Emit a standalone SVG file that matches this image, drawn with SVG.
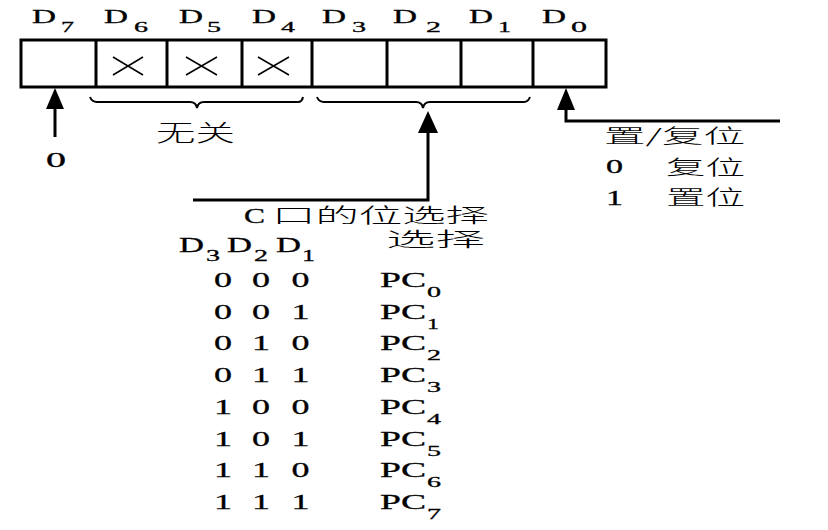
<svg xmlns="http://www.w3.org/2000/svg" width="828" height="530" viewBox="0 0 828 530">
<style>
.lat{font-family:"Liberation Serif","Times New Roman",serif;fill:#000;stroke:#000;stroke-width:0.3}
.cjk{font-family:"Noto Sans CJK SC","Noto Sans CJK JP",sans-serif;font-weight:300;fill:#000}
.box{fill:none;stroke:#000;stroke-width:3}
.div{stroke:#000;stroke-width:3}
.x{stroke:#000;stroke-width:1.5}
.ln{fill:none;stroke:#000;stroke-width:3}
.br{fill:none;stroke:#000;stroke-width:2}
.ah{fill:#000}
</style>
<rect width="828" height="530" fill="#fff"/>

<g id="register">
<rect class="box" x="21" y="40" width="585" height="47"/>
<line class="div" x1="96" y1="40" x2="96" y2="87"/>
<line class="div" x1="167" y1="40" x2="167" y2="87"/>
<line class="div" x1="242" y1="40" x2="242" y2="87"/>
<line class="div" x1="312" y1="40" x2="312" y2="87"/>
<line class="div" x1="387" y1="40" x2="387" y2="87"/>
<line class="div" x1="461" y1="40" x2="461" y2="87"/>
<line class="div" x1="533" y1="40" x2="533" y2="87"/>
<path class="x" d="M113,57 L143,75 M143,57 L113,75"/>
<path class="x" d="M186,57 L217,75 M217,57 L186,75"/>
<path class="x" d="M258,57 L289,75 M289,57 L258,75"/>
</g>

<g id="bit-labels" font-size="18">
<text class="lat" x="32" y="23" textLength="24" lengthAdjust="spacingAndGlyphs">D</text>
<text class="lat" x="61" y="32" font-size="15" textLength="13" lengthAdjust="spacingAndGlyphs">7</text>
<text class="lat" x="104" y="23" textLength="24" lengthAdjust="spacingAndGlyphs">D</text>
<text class="lat" x="134" y="32" font-size="15" textLength="14" lengthAdjust="spacingAndGlyphs">6</text>
<text class="lat" x="179" y="23" textLength="24" lengthAdjust="spacingAndGlyphs">D</text>
<text class="lat" x="207" y="32" font-size="15" textLength="14" lengthAdjust="spacingAndGlyphs">5</text>
<text class="lat" x="252" y="23" textLength="24" lengthAdjust="spacingAndGlyphs">D</text>
<text class="lat" x="281" y="32" font-size="15" textLength="14" lengthAdjust="spacingAndGlyphs">4</text>
<text class="lat" x="322" y="23" textLength="24" lengthAdjust="spacingAndGlyphs">D</text>
<text class="lat" x="352" y="32" font-size="15" textLength="14" lengthAdjust="spacingAndGlyphs">3</text>
<text class="lat" x="393" y="23" textLength="24" lengthAdjust="spacingAndGlyphs">D</text>
<text class="lat" x="426" y="32" font-size="15" textLength="15" lengthAdjust="spacingAndGlyphs">2</text>
<text class="lat" x="469" y="23" textLength="24" lengthAdjust="spacingAndGlyphs">D</text>
<text class="lat" x="498" y="32" font-size="15" textLength="13" lengthAdjust="spacingAndGlyphs">1</text>
<text class="lat" x="542" y="23" textLength="24" lengthAdjust="spacingAndGlyphs">D</text>
<text class="lat" x="571" y="32" font-size="15" textLength="16" lengthAdjust="spacingAndGlyphs">0</text>
</g>

<g id="connectors">
<path class="br" d="M90,97 Q92,102 97,102 L190,102 Q196,102 197,108 Q198,102 204,102 L298,102 Q302,102 303,97"/>
<path class="br" d="M317,97 Q319,102 324,102 L416,102 Q422,102 423,108 Q424,102 430,102 L524,102 Q528,102 530,97"/>
<line class="ln" x1="55" y1="137" x2="55" y2="105"/>
<polygon class="ah" points="55,88 46,109 64,109"/>
<polyline class="ln" points="193,200 428,200 428,128"/>
<polygon class="ah" points="428,111 418,133 438,133"/>
<polyline class="ln" points="566,106 566,121 780,121"/>
<polygon class="ah" points="566,88 557,110 575,110"/>
</g>

<g id="label-dontcare">
<text class="cjk" x="156" y="141" font-size="23" textLength="79" lengthAdjust="spacingAndGlyphs">无关</text>
</g>

<g id="label-zero">
<text class="lat" x="46" y="167" font-size="21" textLength="20" lengthAdjust="spacingAndGlyphs">0</text>
</g>

<g id="label-setreset">
<text class="cjk" x="604" y="143" font-size="19" textLength="141" lengthAdjust="spacingAndGlyphs">置/复位</text>
<text class="lat" x="606" y="173" font-size="18" textLength="17" lengthAdjust="spacingAndGlyphs">0</text>
<text class="cjk" x="666" y="175" font-size="20" textLength="79" lengthAdjust="spacingAndGlyphs">复位</text>
<text class="lat" x="606" y="205" font-size="20" textLength="17" lengthAdjust="spacingAndGlyphs">1</text>
<text class="cjk" x="666" y="205" font-size="20" textLength="79" lengthAdjust="spacingAndGlyphs">置位</text>
</g>

<g id="table">
<text class="lat" x="244" y="223" font-size="22" textLength="21" lengthAdjust="spacingAndGlyphs">C</text>
<text class="cjk" x="272" y="223" font-size="20" textLength="217" lengthAdjust="spacingAndGlyphs">口的位选择</text>

<text class="lat" x="179" y="252" font-size="22" textLength="25" lengthAdjust="spacingAndGlyphs">D</text>
<text class="lat" x="206" y="261" font-size="16" textLength="14" lengthAdjust="spacingAndGlyphs">3</text>
<text class="lat" x="227" y="252" font-size="22" textLength="25" lengthAdjust="spacingAndGlyphs">D</text>
<text class="lat" x="254" y="261" font-size="16" textLength="14" lengthAdjust="spacingAndGlyphs">2</text>
<text class="lat" x="276" y="252" font-size="22" textLength="25" lengthAdjust="spacingAndGlyphs">D</text>
<text class="lat" x="302" y="261" font-size="16" textLength="13" lengthAdjust="spacingAndGlyphs">1</text>
<text class="cjk" x="386" y="247" font-size="20" textLength="99" lengthAdjust="spacingAndGlyphs">选择</text>

<g font-size="21">
<text class="lat" x="214" y="287" textLength="18" lengthAdjust="spacingAndGlyphs">0</text>
<text class="lat" x="252" y="287" textLength="18" lengthAdjust="spacingAndGlyphs">0</text>
<text class="lat" x="291.5" y="287" textLength="18" lengthAdjust="spacingAndGlyphs">0</text>
<text class="lat" x="380" y="287" textLength="46" lengthAdjust="spacingAndGlyphs">PC</text>
<text class="lat" x="427" y="297" font-size="15" textLength="14" lengthAdjust="spacingAndGlyphs">0</text>

<text class="lat" x="214" y="319" textLength="18" lengthAdjust="spacingAndGlyphs">0</text>
<text class="lat" x="252" y="319" textLength="18" lengthAdjust="spacingAndGlyphs">0</text>
<text class="lat" x="291.5" y="319" textLength="18" lengthAdjust="spacingAndGlyphs">1</text>
<text class="lat" x="380" y="319" textLength="46" lengthAdjust="spacingAndGlyphs">PC</text>
<text class="lat" x="427" y="329" font-size="15" textLength="12" lengthAdjust="spacingAndGlyphs">1</text>

<text class="lat" x="214" y="350" textLength="18" lengthAdjust="spacingAndGlyphs">0</text>
<text class="lat" x="252" y="350" textLength="18" lengthAdjust="spacingAndGlyphs">1</text>
<text class="lat" x="291.5" y="350" textLength="18" lengthAdjust="spacingAndGlyphs">0</text>
<text class="lat" x="380" y="350" textLength="46" lengthAdjust="spacingAndGlyphs">PC</text>
<text class="lat" x="427" y="360" font-size="15" textLength="14" lengthAdjust="spacingAndGlyphs">2</text>

<text class="lat" x="214" y="382" textLength="18" lengthAdjust="spacingAndGlyphs">0</text>
<text class="lat" x="252" y="382" textLength="18" lengthAdjust="spacingAndGlyphs">1</text>
<text class="lat" x="291.5" y="382" textLength="18" lengthAdjust="spacingAndGlyphs">1</text>
<text class="lat" x="380" y="382" textLength="46" lengthAdjust="spacingAndGlyphs">PC</text>
<text class="lat" x="427" y="392" font-size="15" textLength="14" lengthAdjust="spacingAndGlyphs">3</text>

<text class="lat" x="214" y="414" textLength="18" lengthAdjust="spacingAndGlyphs">1</text>
<text class="lat" x="252" y="414" textLength="18" lengthAdjust="spacingAndGlyphs">0</text>
<text class="lat" x="291.5" y="414" textLength="18" lengthAdjust="spacingAndGlyphs">0</text>
<text class="lat" x="380" y="414" textLength="46" lengthAdjust="spacingAndGlyphs">PC</text>
<text class="lat" x="427" y="424" font-size="15" textLength="14" lengthAdjust="spacingAndGlyphs">4</text>

<text class="lat" x="214" y="446" textLength="18" lengthAdjust="spacingAndGlyphs">1</text>
<text class="lat" x="252" y="446" textLength="18" lengthAdjust="spacingAndGlyphs">0</text>
<text class="lat" x="291.5" y="446" textLength="18" lengthAdjust="spacingAndGlyphs">1</text>
<text class="lat" x="380" y="446" textLength="46" lengthAdjust="spacingAndGlyphs">PC</text>
<text class="lat" x="427" y="456" font-size="15" textLength="14" lengthAdjust="spacingAndGlyphs">5</text>

<text class="lat" x="214" y="477" textLength="18" lengthAdjust="spacingAndGlyphs">1</text>
<text class="lat" x="252" y="477" textLength="18" lengthAdjust="spacingAndGlyphs">1</text>
<text class="lat" x="291.5" y="477" textLength="18" lengthAdjust="spacingAndGlyphs">0</text>
<text class="lat" x="380" y="477" textLength="46" lengthAdjust="spacingAndGlyphs">PC</text>
<text class="lat" x="427" y="487" font-size="15" textLength="14" lengthAdjust="spacingAndGlyphs">6</text>

<text class="lat" x="214" y="509" textLength="18" lengthAdjust="spacingAndGlyphs">1</text>
<text class="lat" x="252" y="509" textLength="18" lengthAdjust="spacingAndGlyphs">1</text>
<text class="lat" x="291.5" y="509" textLength="18" lengthAdjust="spacingAndGlyphs">1</text>
<text class="lat" x="380" y="509" textLength="46" lengthAdjust="spacingAndGlyphs">PC</text>
<text class="lat" x="427" y="519" font-size="15" textLength="14" lengthAdjust="spacingAndGlyphs">7</text>
</g>
</g>
</svg>
